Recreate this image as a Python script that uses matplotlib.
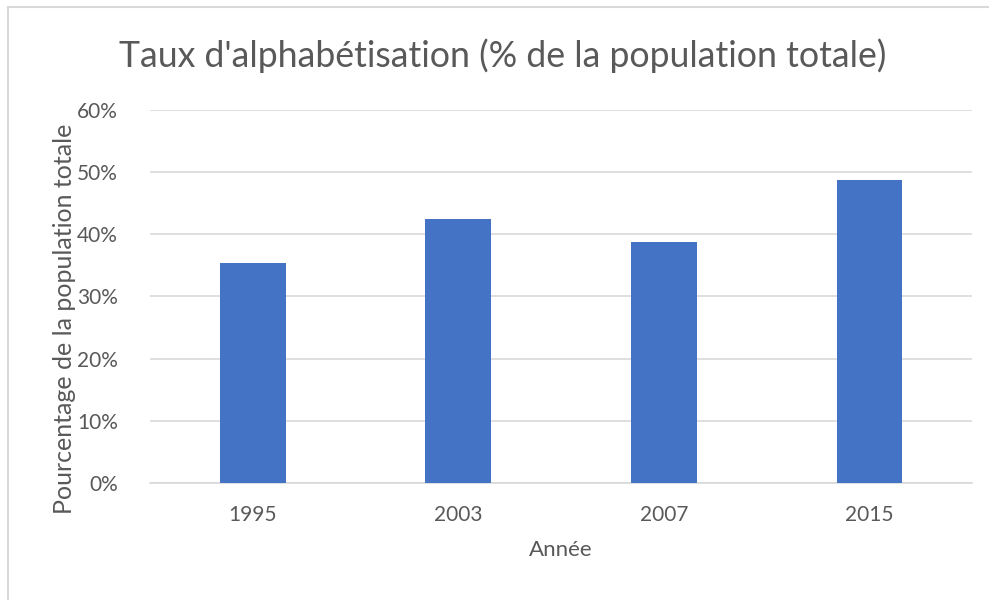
import matplotlib.pyplot as plt
from matplotlib.patches import Rectangle
from matplotlib.ticker import FuncFormatter

annees = ['1995', '2003', '2007', '2015']
taux = [35.4, 42.5, 38.8, 48.8]
yticks = [0, 10, 20, 30, 40, 50, 60]

plt.rcParams['font.family'] = ['Lato', 'DejaVu Sans']
gris = '#595959'

fig = plt.figure(figsize=(9.89, 6), dpi=100)
ax = fig.add_axes([0.1517, 0.195, 0.8313, 0.6217])

# cadre du graphique
fig.patches.append(Rectangle((0.008, -0.02), 1.05, 1.008, transform=fig.transFigure,
                             fill=False, edgecolor='#d9d9d9', linewidth=1.5))

x = range(len(annees))
ax.bar(x, taux, width=0.32, color='#4472c4', zorder=3)

ax.set_xlim(-0.5, 3.5)
ax.set_ylim(0, 60)
ax.set_yticks(yticks)
ax.yaxis.set_major_formatter(FuncFormatter(lambda v, p: f'{v:.0f}%'))
ax.set_xticks(list(x))
ax.set_xticklabels(annees)
ax.grid(axis='y', color='#d9d9d9', linewidth=1.2, zorder=0)
for s in ['top', 'right', 'left']:
    ax.spines[s].set_visible(False)
ax.spines['bottom'].set_color('#d9d9d9')
ax.spines['bottom'].set_linewidth(1.2)
ax.tick_params(length=0, colors=gris, labelsize=15, pad=16)
ax.tick_params(axis='y', pad=23)

ax.set_xlabel('Année', fontsize=16, color=gris, labelpad=11)
ax.set_ylabel('Pourcentage de la population totale', fontsize=18, color=gris)
ax.yaxis.set_label_coords(-0.09, 0.44)
fig.text(0.508, 0.908, "Taux d'alphabétisation (% de la population totale)",
         ha='center', va='center', fontsize=25.7, color=gris)

fig.savefig('out.png', dpi=100)
